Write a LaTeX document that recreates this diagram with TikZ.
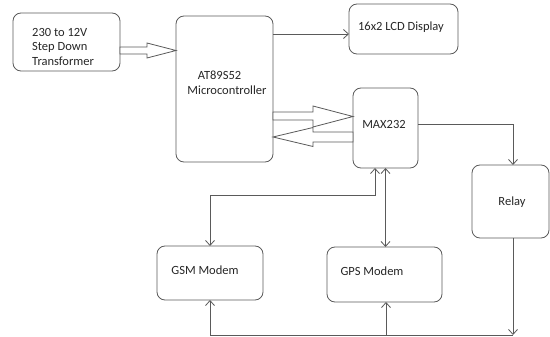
\documentclass[tikz,border=0pt]{standalone}
\usepackage{fontspec}
\setmainfont{Carlito}
\usetikzlibrary{arrows.meta,calc}
\definecolor{ln}{HTML}{5A5A5A}
\definecolor{tx}{HTML}{262626}
\tikzset{
  box/.style={draw=ln,line width=0.8pt,rounded corners=8pt,inner sep=0pt,outer sep=0pt},
  lbl/.style={text=tx,font=\fontsize{12.5}{14.5}\selectfont,inner sep=0pt},
  conn/.style={draw=ln,line width=0.8pt},
  harrow/.style={draw=ln,line width=0.8pt,fill=white,line join=miter},
  >={Straight Barb[length=5pt,width=9pt]}
}
\begin{document}
\begin{tikzpicture}[x=1pt,y=-1pt]
\useasboundingbox (0,0) rectangle (550,337);
% boxes
\node[box,minimum width=107,minimum height=58] (tr) at (66.5,42) {};
\node[box,minimum width=97,minimum height=146] (mc) at (224.5,89) {};
\node[box,minimum width=109,minimum height=50] (lcd) at (403.5,29) {};
\node[box,minimum width=65,minimum height=80] (max) at (385.5,128) {};
\node[box,minimum width=77,minimum height=73] (relay) at (510.5,201.5) {};
\node[box,minimum width=106,minimum height=54] (gsm) at (210,273) {};
\node[box,minimum width=115,minimum height=55] (gps) at (384.5,274.5) {};
% labels
\node[lbl,anchor=west,align=left] (trt) at (32,46.5) {230 to 12V\\Step Down\\Transformer};
\node[lbl] (mct1) at (219.5,75) {AT89S52};
\node[lbl] (mct2) at (227,90) {Microcontroller};
\node[lbl] (lcdt) at (401,27) {16x2 LCD Display};
\node[lbl] (maxt) at (384,124) {MAX232};
\node[lbl] (relt) at (512,202) {Relay};
\node[lbl] (gsmt) at (205,270) {GSM Modem};
\node[lbl] (gpst) at (372,271) {GPS Modem};
% hollow arrows
\draw[harrow] (tr.east|-0,47) -- (147,47) -- (147,43) -- (mc.west|-0,50.5)
  -- (147,58) -- (147,54) -- (tr.east|-0,54) -- cycle;
\draw[harrow] (mc.east|-0,112) -- (313,112) -- (313,106) -- (max.west|-0,116.5)
  -- (313,127) -- (313,120) -- (mc.east|-0,120) -- cycle;
\draw[harrow] (max.west|-0,132) -- (313,132) -- (313,127.5) -- (mc.east|-0,137)
  -- (313,146.5) -- (313,142) -- (max.west|-0,142) -- cycle;
% connectors
\draw[conn,->] (mc.east|-0,34) -- (lcd.west|-0,34);
\coordinate (rt) at ([xshift=2.5]relay.north);
\draw[conn,->] (max.east|-0,124) -| (rt);
\coordinate (br) at ([xshift=2.5]relay.south|-0,335);
\draw[conn,->] ([xshift=2.5]relay.south) -- (br);
\draw[conn] (br) -- (gsm.south|-br);
\draw[conn,->] (gsm.south|-br) -- (gsm.south);
\draw[conn,->] ([xshift=1.5]gps.south|-br) -- ([xshift=1.5]gps.south);
\draw[conn,<->] (max.south) -- (max.south|-gps.north);
\coordinate (j) at ([xshift=-10.5]max.south|-0,195);
\draw[conn,<->] (gsm.north) |- (j) -- ([xshift=-10.5]max.south);
\end{tikzpicture}
\end{document}
